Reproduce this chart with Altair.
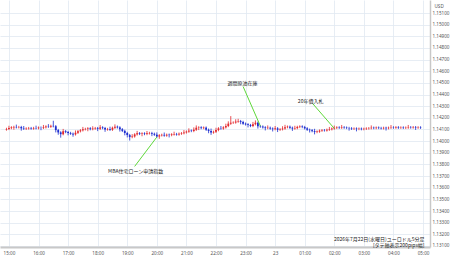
import altair as alt
import pandas as pd

# 5-minute EUR/USD closes, 2026-07-22 14:55 -> 2026-07-23 04:55
closes = [
    1.14105, 1.14112, 1.14118, 1.14122, 1.14119, 1.14121, 1.14110, 1.14106, 1.14109, 1.14112,
    1.14108, 1.14113, 1.14111, 1.14116, 1.14114, 1.14119, 1.14126, 1.14124, 1.14131, 1.14128,
    1.14095, 1.14075, 1.14060, 1.14085, 1.14078, 1.14070, 1.14064, 1.14058, 1.14072, 1.14085,
    1.14093, 1.14102, 1.14105, 1.14110, 1.14103, 1.14108, 1.14112, 1.14106, 1.14118, 1.14112,
    1.14100, 1.14104, 1.14098, 1.14115, 1.14124, 1.14118, 1.14102, 1.14088, 1.14070, 1.14052,
    1.14035, 1.14040, 1.14058, 1.14068, 1.14062, 1.14066, 1.14061, 1.14067, 1.14070, 1.14063,
    1.14055, 1.14040, 1.14050, 1.14054, 1.14048, 1.14055, 1.14052, 1.14058, 1.14061, 1.14057,
    1.14064, 1.14068, 1.14075, 1.14082, 1.14090, 1.14087, 1.14098, 1.14115, 1.14118, 1.14112,
    1.14116, 1.14098, 1.14088, 1.14074, 1.14080, 1.14095, 1.14110, 1.14108, 1.14118, 1.14130,
    1.14150, 1.14158, 1.14160, 1.14168, 1.14172, 1.14165, 1.14150, 1.14144, 1.14138, 1.14130,
    1.14145, 1.14158, 1.14128, 1.14125, 1.14118, 1.14112, 1.14115, 1.14108, 1.14103, 1.14110,
    1.14098, 1.14102, 1.14108, 1.14120, 1.14124, 1.14115, 1.14108, 1.14112, 1.14122, 1.14126,
    1.14121, 1.14110, 1.14098, 1.14094, 1.14086, 1.14078, 1.14082, 1.14090, 1.14094, 1.14092,
    1.14098, 1.14102, 1.14108, 1.14114, 1.14118, 1.14115, 1.14119, 1.14116, 1.14113, 1.14110,
    1.14106, 1.14108, 1.14104, 1.14107, 1.14103, 1.14106, 1.14109, 1.14111, 1.14115, 1.14112,
    1.14116, 1.14113, 1.14110, 1.14114, 1.14111, 1.14115, 1.14118, 1.14116, 1.14119, 1.14115,
    1.14117, 1.14114, 1.14116, 1.14119, 1.14117, 1.14120, 1.14116, 1.14118, 1.14115,
]
first_open = 1.14100
upper_wick_pips = [
    1, 2, 1, 1, 2, 1, 1, 2, 1, 1,
    1, 1, 2, 1, 1, 2, 1, 2, 1, 4.4,
    1, 1, 1, 2, 1, 1, 1, 1, 2, 1,
    1, 2, 1, 1, 1, 2, 1, 1, 2, 1,
    1, 1, 2, 1, 2, 1, 1, 1, 1, 1,
    1, 2, 1, 2, 1, 1, 1, 2, 1, 1,
    1, 2, 1, 1, 2, 1, 1, 1, 2, 1,
    1, 1, 2, 1, 2, 1, 2, 2, 1, 1,
    1, 1, 1, 2, 1, 2, 1, 2, 1, 2,
    2, 5.7, 1, 2, 2, 1, 1, 1, 1, 1,
    2, 2, 1, 1, 1, 1, 2, 1, 1, 2,
    1, 1, 2, 2, 1, 1, 1, 2, 1, 1,
    1, 1, 1, 1, 1, 2, 1, 1, 1, 1,
    1, 2, 1, 2, 1, 1, 2, 1, 1, 1,
    1, 1, 1, 1, 1, 1, 1, 1, 2, 1,
    1, 1, 1, 1, 1, 1, 2, 1, 1, 1,
    1, 1, 1, 2, 1, 1, 1, 1, 1,
]
lower_wick_pips = [
    1, 1, 1, 2, 1, 1, 2, 1, 1, 1,
    1, 1, 1, 1, 2, 1, 1, 1, 1, 1,
    2, 2, 3, 1, 1, 2, 1, 2, 1, 1,
    1, 1, 1, 2, 1, 1, 1, 2, 1, 1,
    2, 1, 1, 1, 1, 1, 2, 1, 2, 2,
    3, 1, 1, 1, 1, 2, 1, 1, 1, 2,
    1, 1, 2, 1, 1, 1, 2, 1, 1, 1,
    1, 1, 1, 1, 1, 1, 1, 1, 2, 1,
    1, 1, 2, 2, 1, 1, 1, 1, 1, 1,
    1, 1, 1, 1, 1, 2, 1, 1, 2, 1,
    1, 1, 2, 1, 1, 2, 1, 1, 2, 1,
    2, 1, 1, 1, 1, 1, 2, 1, 1, 1,
    1, 1, 1, 2, 1, 2, 1, 1, 1, 1,
    1, 1, 1, 1, 1, 1, 1, 1, 1, 2,
    1, 1, 2, 1, 1, 1, 1, 1, 1, 1,
    1, 1, 1, 1, 2, 1, 1, 1, 1, 1,
    1, 1, 1, 1, 1, 1, 2, 1, 1,
]
y_ticks = [1.131, 1.132, 1.133, 1.134, 1.135, 1.136, 1.137, 1.138, 1.139, 1.140,
           1.141, 1.142, 1.143, 1.144, 1.145, 1.146, 1.147, 1.148, 1.149, 1.150, 1.151]
x_tick_hours = [(22, 15), (22, 16), (22, 17), (22, 18), (22, 19), (22, 20), (22, 21), (22, 22),
                (22, 23), (23, 0), (23, 1), (23, 2), (23, 3), (23, 4), (23, 5)]

# event annotations
ann_labels = ["MBA住宅ローン申請指数", "週間原油在庫", "20年債入札"]
ann_text_time = ["2026-07-22T19:17:00", "2026-07-22T22:54:00", "2026-07-23T01:12:00"]
ann_text_price = [1.13740, 1.14495, 1.14349]
ann_from_time = ["2026-07-22T19:15:00", "2026-07-22T22:55:00", "2026-07-23T01:16:00"]
ann_from_price = [1.13783, 1.14469, 1.14323]
ann_to_time = ["2026-07-22T20:00:00", "2026-07-22T23:30:00", "2026-07-23T02:00:00"]
ann_to_price = [1.14035, 1.14130, 1.14109]

note_lines = ["2026年7月22日(水曜日)ユーロドル5分足", "[タテ軸表示200pips幅]"]
note_time = ["2026-07-23T05:03:00", "2026-07-23T05:03:00"]
note_price = [1.13162, 1.13108]

FONT = "Noto Sans CJK JP"
AXFONT = "Noto Sans"
GRID = "#e1e9f1"
AXIS_TXT = "#555555"

times = pd.date_range("2026-07-22 14:55", periods=len(closes), freq="5min")
opens = [first_open] + closes[:-1]
highs = [max(o, c) + u * 0.0001 for o, c, u in zip(opens, closes, upper_wick_pips)]
lows = [min(o, c) - l * 0.0001 for o, c, l in zip(opens, closes, lower_wick_pips)]
df = pd.DataFrame({
    "t": list(times.strftime("%Y-%m-%dT%H:%M:%S")),
    "open": opens, "close": closes, "high": highs, "low": lows,
    "dir": ["up" if c >= o else "down" for o, c in zip(opens, closes)],
})

ann_df = pd.DataFrame({
    "label": ann_labels, "tt": ann_text_time, "tp": ann_text_price,
    "ft": ann_from_time, "fp": ann_from_price, "et": ann_to_time, "ep": ann_to_price,
})
note_df = pd.DataFrame({"label": note_lines, "t": note_time, "p": note_price})

x_scale = alt.Scale(domain=[
    alt.DateTime(year=2026, month=7, date=22, hours=14, minutes=52),
    alt.DateTime(year=2026, month=7, date=23, hours=5, minutes=4),
])
y_scale = alt.Scale(domain=[1.13091, 1.15212], zero=False, nice=False)

x_axis = alt.Axis(
    title=None, tickCount=100,
    values=[alt.DateTime(year=2026, month=7, date=d, hours=h) for d, h in x_tick_hours],
    labelExpr="hours(datum.value) == 0 ? timeFormat(datum.value, '%d') : timeFormat(datum.value, '%H:%M')",
    labelFontSize=4.6, labelColor=AXIS_TXT, labelFont=AXFONT, labelPadding=3,
    labelFlush=False, labelOverlap=False, ticks=False,
    domainColor="#c8c8c8", domainWidth=2, grid=True, gridColor=GRID, gridWidth=0.8,
)
y_axis = alt.Axis(
    orient="right", values=y_ticks, format=".5f", tickCount=100,
    labelFontSize=4.6, labelColor=AXIS_TXT, labelFont=AXFONT, labelPadding=2,
    labelOverlap=False,
    ticks=False, domainColor="#c8c8c8", domainWidth=1.5,
    grid=True, gridColor=GRID, gridWidth=0.8,
    title="USD", titleAngle=0, titleFontSize=4.6, titleFontWeight="normal",
    titleColor=AXIS_TXT, titleFont=AXFONT, titleAlign="left", titleBaseline="middle",
    titleX=4, titleY=6,
)
color = alt.Color("dir:N", scale=alt.Scale(domain=["up", "down"], range=["#e3262b", "#1c2ccf"]), legend=None)

base = alt.Chart(df)
wicks = base.mark_rule(strokeWidth=0.8).encode(
    x=alt.X("t:T", scale=x_scale, axis=x_axis),
    y=alt.Y("low:Q", scale=y_scale, axis=y_axis),
    y2="high:Q",
    color=color,
)
bodies = base.mark_bar(size=1.8).encode(
    x=alt.X("t:T"),
    y=alt.Y("open:Q"),
    y2="close:Q",
    color=color,
)

ann = alt.Chart(ann_df)
ann_lines = ann.mark_rule(color="#5fd83a", strokeWidth=1).encode(
    x="ft:T", x2="et:T", y="fp:Q", y2="ep:Q",
)
ann_text = ann.mark_text(font=FONT, fontSize=5, color="#222222", align="center", baseline="middle").encode(
    x="tt:T", y="tp:Q", text="label:N",
)
notes = alt.Chart(note_df).mark_text(font=FONT, fontSize=5, color="#222222", align="right", baseline="middle").encode(
    x="t:T", y="p:Q", text="label:N",
)

chart = alt.layer(wicks, bodies, ann_lines, ann_text, notes).properties(
    width=430, height=247,
    background="white",
).configure(
    autosize=alt.AutoSizeParams(type="none"),
    padding={"left": 0, "top": 0, "right": 20, "bottom": 11},
).configure_view(strokeWidth=0)

chart.save("out.html", embed_options={"renderer": "svg", "actions": False})
